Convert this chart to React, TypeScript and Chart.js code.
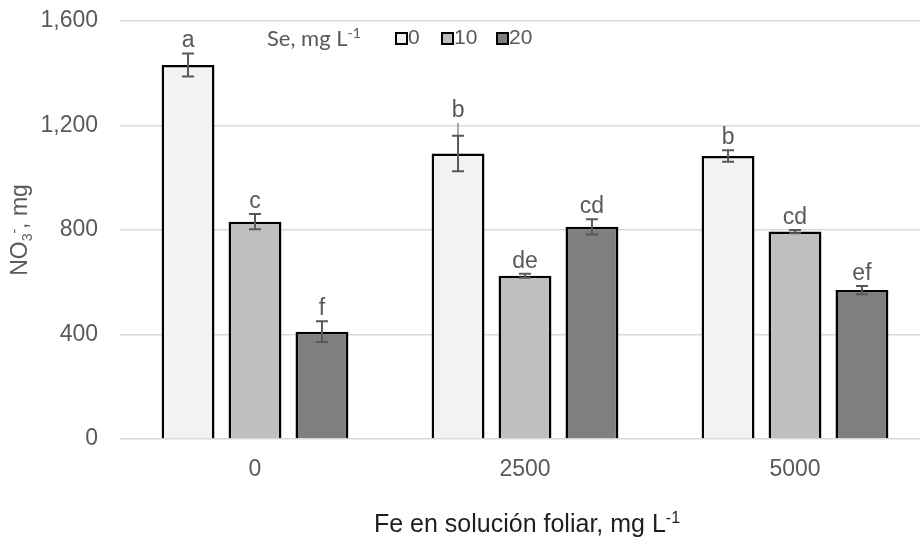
import React, { useEffect, useRef } from 'react';
import { Chart, registerables } from 'chart.js';

Chart.register(...registerables);

// Fe foliar doses (x categories) and Se doses (series)
const feLevels = ['0', '2500', '5000'];
const seLevels = ['0', '10', '20'];

// NO3- content, mg
const no3Se0 = [1432, 1093, 1083];
const no3Se10 = [832, 625, 794];
const no3Se20 = [411, 812, 570];

// standard errors
const errSe0 = [44, 68, 22];
const errSe10 = [29, 8, 6];
const errSe20 = [40, 29, 16];

// faint upper whisker reach (only the 2500 / Se 0 bar has one)
const reachSe0: (number | null)[] = [null, 1210, null];
const reachSe10: (number | null)[] = [null, null, null];
const reachSe20: (number | null)[] = [null, null, null];

// mean separation letters
const lettersSe0 = ['a', 'b', 'b'];
const lettersSe10 = ['c', 'de', 'cd'];
const lettersSe20 = ['f', 'cd', 'ef'];

const yTicks = [0, 400, 800, 1200, 1600];

const fills = ['#f2f2f2', '#bfbfbf', '#7f7f7f'];
const SANS = '"Liberation Sans", Arial, sans-serif';
const LEGEND_SANS = 'Lato, "Liberation Sans", sans-serif';
const GREY = '#595959';

type Run = { t: string; k?: 'sup' | 'sub' };

function drawRuns(
  ctx: CanvasRenderingContext2D,
  runs: Run[],
  x: number,
  y: number,
  size: number,
  family: string,
  align: 'left' | 'center'
) {
  const small = Math.round(size * 0.62);
  const fontFor = (r: Run) => `${r.k ? small : size}px ${family}`;
  const widthOf = (r: Run) => {
    ctx.font = fontFor(r);
    return ctx.measureText(r.t).width;
  };
  const total = runs.reduce((s, r) => s + widthOf(r), 0);
  let cx = align === 'center' ? x - total / 2 : x;
  ctx.textAlign = 'left';
  ctx.textBaseline = 'alphabetic';
  for (const r of runs) {
    ctx.font = fontFor(r);
    const dy = r.k === 'sup' ? -size * 0.36 : r.k === 'sub' ? size * 0.2 : 0;
    ctx.fillText(r.t, cx, y + dy);
    cx += ctx.measureText(r.t).width;
  }
}

const errors = [errSe0, errSe10, errSe20];
const reaches = [reachSe0, reachSe10, reachSe20];
const letters = [lettersSe0, lettersSe10, lettersSe20];

const overlay = {
  id: 'overlay',
  afterDatasetsDraw(chart: any) {
    const ctx: CanvasRenderingContext2D = chart.ctx;
    const yScale = chart.scales.y;
    ctx.save();

    // error bars and letters
    chart.data.datasets.forEach((ds: any, i: number) => {
      const meta = chart.getDatasetMeta(i);
      meta.data.forEach((bar: any, j: number) => {
        const v = ds.data[j] as number;
        const e = errors[i][j];
        const x = bar.x;
        const yHi = yScale.getPixelForValue(v + e);
        const yLo = yScale.getPixelForValue(v - e);
        const reach = reaches[i][j];
        let labelTop = yHi;
        if (reach != null) {
          const yR = yScale.getPixelForValue(reach);
          ctx.strokeStyle = '#a6a6a6';
          ctx.lineWidth = 2;
          ctx.beginPath();
          ctx.moveTo(x, yHi);
          ctx.lineTo(x, yR);
          ctx.stroke();
          labelTop = yR;
        }
        ctx.strokeStyle = GREY;
        ctx.lineWidth = 2;
        ctx.beginPath();
        ctx.moveTo(x, yHi);
        ctx.lineTo(x, yLo);
        ctx.moveTo(x - 6, yHi);
        ctx.lineTo(x + 6, yHi);
        ctx.moveTo(x - 6, yLo);
        ctx.lineTo(x + 6, yLo);
        ctx.stroke();

        ctx.fillStyle = GREY;
        ctx.font = `23px ${SANS}`;
        ctx.textAlign = 'center';
        ctx.textBaseline = 'alphabetic';
        ctx.fillText(letters[i][j], x, labelTop - 6);
      });
    });

    // legend
    ctx.fillStyle = GREY;
    drawRuns(ctx, [{ t: 'Se, mg L' }, { t: '-1', k: 'sup' }], 267, 46, 22, LEGEND_SANS, 'left');
    const boxX = [396, 442, 497];
    seLevels.forEach((lab, i) => {
      ctx.fillStyle = fills[i];
      ctx.fillRect(boxX[i], 33, 11, 11);
      ctx.strokeStyle = '#000';
      ctx.lineWidth = 2;
      ctx.strokeRect(boxX[i], 33, 11, 11);
      ctx.fillStyle = GREY;
      ctx.font = `21px ${SANS}`;
      ctx.textAlign = 'left';
      ctx.textBaseline = 'alphabetic';
      ctx.fillText(lab, boxX[i] + 12, 44);
    });

    // axis titles
    ctx.fillStyle = GREY;
    ctx.save();
    ctx.translate(27, 230);
    ctx.rotate(-Math.PI / 2);
    drawRuns(
      ctx,
      [{ t: 'NO' }, { t: '3', k: 'sub' }, { t: '-', k: 'sup' }, { t: ', mg' }],
      0,
      0,
      23,
      SANS,
      'center'
    );
    ctx.restore();

    ctx.fillStyle = '#1f1f1f';
    drawRuns(
      ctx,
      [{ t: 'Fe en solución foliar, mg L' }, { t: '-1', k: 'sup' }],
      527,
      532,
      25,
      SANS,
      'center'
    );
    ctx.restore();
  },
};

export default function App() {
  const ref = useRef<HTMLCanvasElement | null>(null);

  useEffect(() => {
    if (!ref.current) return;
    const series = [no3Se0, no3Se10, no3Se20];
    const chart = new Chart(ref.current, {
      type: 'bar',
      data: {
        labels: feLevels,
        datasets: series.map((values, i) => ({
          label: seLevels[i],
          data: values,
          backgroundColor: fills[i],
          borderColor: '#000000',
          borderWidth: 2.5,
          categoryPercentage: 0.744,
          barPercentage: 0.79,
        })),
      },
      options: {
        responsive: false,
        animation: false,
        layout: { padding: { top: 21, left: 0, right: 0, bottom: 0 } },
        plugins: { legend: { display: false }, tooltip: { enabled: false } },
        scales: {
          x: {
            grid: { display: false },
            border: { display: false },
            ticks: { color: GREY, font: { family: SANS, size: 23 }, padding: 9 },
            afterFit: (s: any) => {
              s.height = 100;
              s.paddingLeft = 0;
              s.paddingRight = 0;
            },
          },
          y: {
            min: 0,
            max: 1600,
            afterBuildTicks: (s: any) => {
              s.ticks = yTicks.map((v) => ({ value: v }));
            },
            ticks: {
              color: GREY,
              font: { family: SANS, size: 23 },
              padding: 22,
              callback: (v: any) => Number(v).toLocaleString('en-US'),
            },
            grid: { color: '#d9d9d9', lineWidth: 1.5, drawTicks: false },
            border: { display: false },
            afterFit: (s: any) => {
              s.width = 120;
              s.paddingTop = 0;
              s.paddingBottom = 0;
            },
          },
        },
      },
      plugins: [overlay],
    });
    return () => chart.destroy();
  }, []);

  return (
    <div
      style={{
        position: 'fixed',
        left: 0,
        top: 0,
        width: 920,
        height: 539,
        overflow: 'hidden',
        background: '#ffffff',
      }}
    >
      <canvas ref={ref} width={930} height={539} style={{ display: 'block' }} />
    </div>
  );
}
